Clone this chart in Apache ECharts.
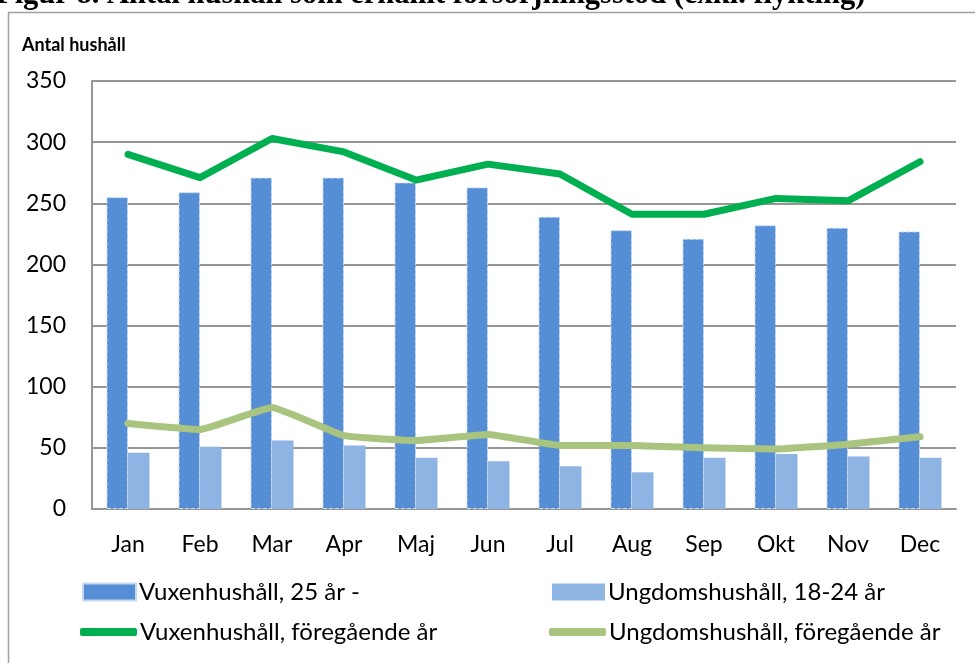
<!DOCTYPE html>
<html>
<head>
<meta charset="utf-8">
<script src="https://cdn.jsdelivr.net/npm/echarts@6/dist/echarts.min.js"></script>
<style>
  html, body { margin: 0; padding: 0; background: #fff; }
  #main { width: 975px; height: 663px; }
</style>
</head>
<body>
<div id="main"></div>
<script>
// månader
var manader = ["Jan", "Feb", "Mar", "Apr", "Maj", "Jun", "Jul", "Aug", "Sep", "Okt", "Nov", "Dec"];
// staplar
var vuxen = [255, 259, 271, 271, 267, 263, 239, 228, 221, 232, 230, 227];
var ungdom = [46, 51, 56, 52, 42, 39, 35, 30, 42, 45, 43, 42];
// linjer, föregående år
var vuxenFg = [290, 271, 303, 292, 269, 282, 274, 241, 241, 254, 252, 284];
var ungdomFg = [70, 65, 83, 60, 56, 61, 52, 52, 50, 49, 53, 59];
var yTicks = [0, 50, 100, 150, 200, 250, 300, 350];

var namn = ["Vuxenhushåll, 25 år -", "Ungdomshushåll, 18-24 år",
            "Vuxenhushåll, föregående år", "Ungdomshushåll, föregående år"];
var farger = ["#558ED5", "#8EB4E3", "#00B050", "#A9C47F"];

var font = "Lato, 'Open Sans', sans-serif";

var chart = echarts.init(document.getElementById("main"));

function legendItem(i, left, top, bar) {
  return {
    left: left, top: top, padding: 0,
    itemWidth: bar ? 53 : 57,
    itemHeight: bar ? 17 : 8,
    icon: bar ? "rect" : "roundRect",
    selectedMode: false,
    textStyle: { fontFamily: font, fontSize: 24, color: "#000", padding: [0, 0, 0, -2] },
    data: [{ name: namn[i], icon: bar ? "rect" : "roundRect", itemStyle: { color: farger[i] } }]
  };
}

var option = {
  animation: false,
  backgroundColor: "#fff",
  graphic: [
    { // ram
      type: "rect", shape: { x: 8.5, y: 12.5, width: 990, height: 700 },
      style: { fill: null, stroke: "#A0A0A0", lineWidth: 1.5 }, z: -1
    },
    { // avklippt rubrik
      type: "text", left: -4, top: -20,
      style: { text: "Figur 8. Antal hushåll som erhållit försörjningsstöd (exkl. flykting)",
               font: "bold 30.5px 'Liberation Serif', serif", fill: "#000" }
    },
    {
      type: "text", left: 22, top: 36,
      style: { text: "Antal hushåll", font: "bold 18px " + font, fill: "#000" }
    }
  ],
  legend: [
    legendItem(0, 82, 580, true),
    legendItem(1, 552, 580, true),
    legendItem(2, 80, 620, false),
    legendItem(3, 549, 620, false)
  ],
  grid: { left: 92, right: 19, top: 81, bottom: 154 },
  xAxis: {
    type: "category",
    data: manader,
    axisLine: { lineStyle: { color: "#969696", width: 2 } },
    axisTick: { show: false },
    axisLabel: { fontFamily: font, fontSize: 23, color: "#000", margin: 24 }
  },
  yAxis: {
    type: "value",
    min: yTicks[0], max: yTicks[yTicks.length - 1], interval: 50,
    axisLine: { show: true, lineStyle: { color: "#969696", width: 2 } },
    axisTick: { show: false },
    splitLine: { lineStyle: { color: "#969696", width: 2 } },
    axisLabel: { fontFamily: font, fontSize: 23, color: "#000", margin: 26 }
  },
  series: [
    {
      name: namn[0], type: "bar", data: vuxen, barWidth: 21.5, barGap: "0%",
      itemStyle: { color: farger[0], borderColor: "#C6D9F1", borderWidth: 1, borderType: "dashed" }
    },
    {
      name: namn[1], type: "bar", data: ungdom, barWidth: 21.5,
      itemStyle: { color: farger[1] }
    },
    {
      name: namn[2], type: "line", data: vuxenFg, symbol: "none", z: 5,
      lineStyle: { color: farger[2], width: 7, cap: "round", join: "round" },
      itemStyle: { color: farger[2] }
    },
    {
      name: namn[3], type: "line", data: ungdomFg, symbol: "none", z: 5, smooth: 0.1,
      lineStyle: { color: farger[3], width: 7, cap: "round", join: "round" },
      itemStyle: { color: farger[3] }
    }
  ]
};

chart.setOption(option);
</script>
</body>
</html>
